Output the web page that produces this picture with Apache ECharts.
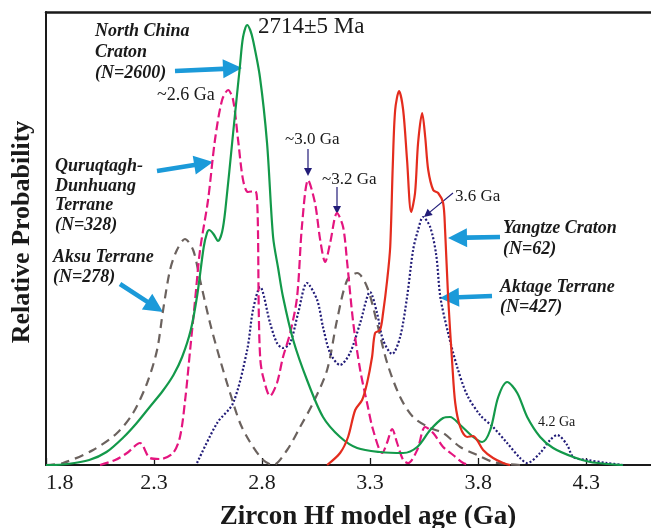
<!DOCTYPE html>
<html>
<head>
<meta charset="utf-8">
<script src="https://cdn.jsdelivr.net/npm/echarts@6/dist/echarts.min.js"></script>
<style>
  html, body { margin: 0; padding: 0; background: #fff; }
  #chart { width: 651px; height: 528px; }
</style>
</head>
<body>
<div id="chart"></div>
<script>
// Hf model age probability density curves: [age (Ga), relative probability]
const northChinaCraton = [
  [1.80,0],[1.82,0],[1.90,1],[2.00,5],[2.08,13],[2.16,28],[2.22,42],[2.28,58],[2.34,74],
  [2.39,90],[2.43,108],[2.47,135],[2.50,170],[2.53,218],[2.545,232],[2.555,235],[2.575,231],
  [2.596,224],[2.615,233],[2.63,255],[2.666,332],[2.698,400],[2.712,428],[2.731,440],
  [2.745,435],[2.758,425],[2.79,388],[2.823,322],[2.851,228],[2.875,196],[2.897,168],
  [2.944,125],[3.008,85],[3.082,48],[3.161,28],[3.24,17],[3.346,13],[3.453,12],[3.518,18],
  [3.578,35],[3.638,47],[3.67,48],[3.717,40],[3.777,28],[3.819,23],[3.856,35],[3.893,68],
  [3.934,83],[3.981,72],[4.027,48],[4.087,28],[4.147,17],[4.24,8],[4.319,3],[4.40,1],[4.47,0]
];
const quruqtaghDunhuang = [
  [2.05,0],[2.12,5],[2.175,12],[2.235,22],[2.281,7],[2.328,6],[2.388,12],[2.42,28],
  [2.444,65],[2.467,115],[2.49,165],[2.513,215],[2.55,265],[2.582,325],[2.615,365],
  [2.643,375],[2.666,365],[2.689,325],[2.712,285],[2.735,273],[2.768,274],[2.776,268],
  [2.781,235],[2.785,150],[2.792,105],[2.805,88],[2.837,69],[2.869,82],[2.897,108],
  [2.93,132],[2.962,168],[2.985,240],[3.013,285],[3.045,262],[3.069,225],[3.092,203],
  [3.115,222],[3.147,252],[3.175,238],[3.194,202],[3.222,142],[3.254,95],[3.286,62],
  [3.314,35],[3.356,12],[3.378,22],[3.402,36],[3.425,22],[3.453,5],[3.476,2],[3.518,15],
  [3.555,38],[3.592,32],[3.638,18],[3.684,10],[3.731,2],[3.76,0]
];
const aksuTerrane = [
  [1.80,0],[1.879,2],[2.018,15],[2.129,32],[2.203,52],[2.268,82],[2.314,115],[2.342,155],
  [2.374,195],[2.406,215],[2.443,226],[2.481,215],[2.513,185],[2.559,142],[2.606,105],
  [2.652,72],[2.698,42],[2.744,23],[2.805,5],[2.851,0],[2.916,15],[2.976,38],[3.036,62],
  [3.101,95],[3.147,145],[3.194,185],[3.24,192],[3.286,178],[3.332,142],[3.379,102],
  [3.439,68],[3.499,48],[3.578,37],[3.638,32],[3.717,18],[3.795,10],[3.869,3],[3.934,1],[3.995,0]
];
const yangtzeCraton = [
  [3.101,0],[3.161,12],[3.198,28],[3.231,55],[3.263,65],[3.286,82],[3.309,108],[3.323,132],
  [3.346,135],[3.36,152],[3.379,185],[3.393,218],[3.405,300],[3.416,355],[3.434,374],
  [3.453,355],[3.471,305],[3.49,253],[3.508,272],[3.522,322],[3.541,352],[3.555,328],
  [3.569,295],[3.592,275],[3.615,272],[3.638,262],[3.647,235],[3.661,168],[3.68,102],
  [3.694,62],[3.717,38],[3.749,28],[3.777,29],[3.795,25],[3.823,15],[3.869,7],[3.916,2],[3.948,0]
];
const aktageTerrane = [
  [2.499,2],[2.592,42],[2.666,62],[2.731,115],[2.758,155],[2.791,178],[2.837,142],
  [2.869,122],[2.897,117],[2.93,122],[2.967,152],[3.008,182],[3.055,165],[3.082,138],
  [3.115,112],[3.161,100],[3.207,112],[3.254,142],[3.3,173],[3.332,152],[3.36,125],
  [3.402,111],[3.439,128],[3.471,168],[3.499,215],[3.522,235],[3.545,248],[3.578,238],
  [3.606,210],[3.625,168],[3.661,132],[3.703,98],[3.749,70],[3.809,50],[3.869,38],
  [3.934,22],[3.994,7],[4.027,2],[4.087,12],[4.133,25],[4.166,30],[4.212,20],[4.24,8],
  [4.305,5],[4.397,2],[4.471,0]
];
const ageTicks = [1.8, 2.3, 2.8, 3.3, 3.8, 4.3];

const SERIF = '"Liberation Serif", "Times New Roman", serif';
const ARROW_BLUE = '#1b9ad9';
const NAVY = '#221c78';

function blockArrow(x1, y1, x2, y2) {
  const dx = x2 - x1, dy = y2 - y1, len = Math.hypot(dx, dy);
  const ux = dx / len, uy = dy / len, nx = -uy, ny = ux;
  const w = 2.3, H = 9.5, L = 19;
  const bx = x2 - ux * L, by = y2 - uy * L;
  return {
    type: 'polygon',
    shape: { points: [
      [x1 + nx * w, y1 + ny * w], [bx + nx * w, by + ny * w], [bx + nx * H, by + ny * H],
      [x2, y2], [bx - nx * H, by - ny * H], [bx - nx * w, by - ny * w], [x1 - nx * w, y1 - ny * w]
    ] },
    style: { fill: ARROW_BLUE }
  };
}
function thinArrow(x1, y1, x2, y2) {
  const dx = x2 - x1, dy = y2 - y1, len = Math.hypot(dx, dy);
  const ux = dx / len, uy = dy / len, nx = -uy, ny = ux;
  const H = 4, L = 8;
  const bx = x2 - ux * L, by = y2 - uy * L;
  return [
    { type: 'line', shape: { x1, y1, x2: bx, y2: by }, style: { stroke: NAVY, lineWidth: 1.2 } },
    { type: 'polygon', shape: { points: [[bx + nx * H, by + ny * H], [x2, y2], [bx - nx * H, by - ny * H]] },
      style: { fill: NAVY } }
  ];
}
function label(text, x, y, size, bold, italic) {
  return {
    type: 'text', x, y,
    style: {
      text, fill: '#1a1a1a',
      font: (italic ? 'italic ' : '') + (bold ? 'bold ' : '') + size + 'px ' + SERIF,
      textAlign: 'left', textVerticalAlign: 'middle'
    }
  };
}

const graphics = [
  blockArrow(175, 71, 242, 68),
  blockArrow(157, 171, 213, 162),
  blockArrow(120, 284, 163, 312),
  blockArrow(500, 237, 448, 238),
  blockArrow(492, 296, 440, 298),
  ...thinArrow(308, 149, 308, 176),
  ...thinArrow(337, 187, 337, 214),
  ...thinArrow(453, 193, 424, 217),
  label('North China', 95, 31, 18, true, true),
  label('Craton', 95, 52, 18, true, true),
  label('(N=2600)', 95, 73, 18, true, true),
  label('~2.6 Ga', 157, 95, 18, false, false),
  label('2714±5 Ma', 258, 27, 23, false, false),
  label('Quruqtagh-', 55, 166, 18, true, true),
  label('Dunhuang', 55, 186, 18, true, true),
  label('Terrane', 55, 205, 18, true, true),
  label('(N=328)', 55, 225, 18, true, true),
  label('Aksu Terrane', 53, 257, 18, true, true),
  label('(N=278)', 53, 277, 18, true, true),
  label('~3.0 Ga', 285, 140, 17, false, false),
  label('~3.2 Ga', 322, 180, 17, false, false),
  label('3.6 Ga', 455, 197, 17, false, false),
  label('Yangtze Craton', 503, 228, 18, true, true),
  label('(N=62)', 503, 249, 18, true, true),
  label('Aktage Terrane', 500, 287, 18, true, true),
  label('(N=427)', 500, 307, 18, true, true),
  label('4.2 Ga', 538, 422, 14, false, false),
  {
    type: 'text', x: 368, y: 517,
    style: { text: 'Zircon Hf model age (Ga)', fill: '#1a1a1a', font: 'bold 27px ' + SERIF,
      textAlign: 'center', textVerticalAlign: 'middle' }
  },
  {
    type: 'text', x: 22, y: 232, rotation: Math.PI / 2,
    style: { text: 'Relative Probability', fill: '#1a1a1a', font: 'bold 26px ' + SERIF,
      textAlign: 'center', textVerticalAlign: 'middle' }
  }
];

function curve(name, data, color, type) {
  return {
    name, type: 'line', data, showSymbol: false, smooth: 0.3,
    lineStyle: { color, width: 2.2, type }, silent: true, animation: false
  };
}

const chart = echarts.init(document.getElementById('chart'), null, { renderer: 'canvas' });
chart.setOption({
  animation: false,
  backgroundColor: '#fff',
  grid: { left: 46, right: 0, top: 12, bottom: 63 },
  xAxis: [
    {
      type: 'value', min: 1.8, max: 4.6, position: 'bottom',
      axisLine: { lineStyle: { color: '#1a1a1a', width: 2 } },
      axisTick: { inside: true, length: 7, customValues: ageTicks, lineStyle: { color: '#1a1a1a', width: 1.3 } },
      axisLabel: { customValues: ageTicks, margin: 7, color: '#1a1a1a', fontSize: 22, fontFamily: SERIF,
        alignMinLabel: 'left', formatter: v => v.toFixed(1) },
      splitLine: { show: false }
    },
    {
      type: 'value', min: 1.8, max: 4.6, position: 'top',
      axisLine: { lineStyle: { color: '#1a1a1a', width: 2.5 } },
      axisTick: { show: false }, axisLabel: { show: false }, splitLine: { show: false }
    }
  ],
  yAxis: {
    type: 'value', min: 0, max: 453,
    axisLine: { show: true, lineStyle: { color: '#1a1a1a', width: 2 } },
    axisTick: { show: false }, axisLabel: { show: false }, splitLine: { show: false }
  },
  series: [
    curve('Aksu Terrane', aksuTerrane, '#6b625e', [9, 6]),
    curve('Aktage Terrane', aktageTerrane, NAVY, [2, 2]),
    curve('Quruqtagh-Dunhuang Terrane', quruqtaghDunhuang, '#e4157f', [9, 4]),
    curve('North China Craton', northChinaCraton, '#13994a', 'solid'),
    curve('Yangtze Craton', yangtzeCraton, '#e42c1e', 'solid')
  ],
  graphic: graphics
});
</script>
</body>
</html>
